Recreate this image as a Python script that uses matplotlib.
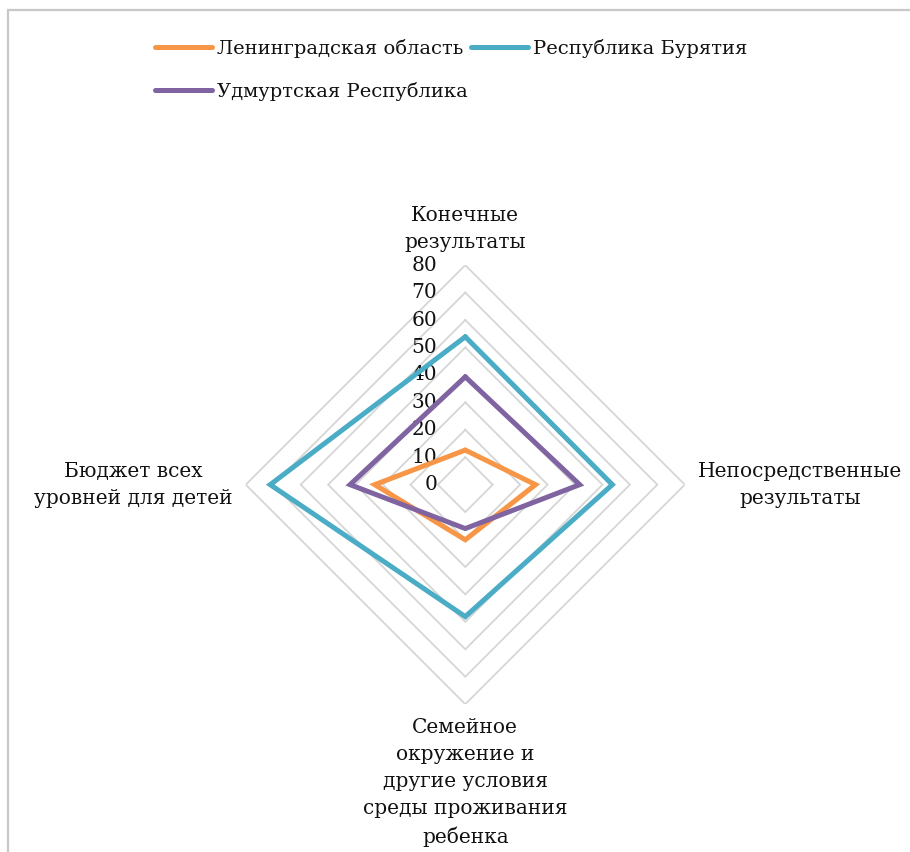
import numpy as np
import matplotlib.pyplot as plt
from matplotlib.patches import Rectangle

plt.rcParams['font.family'] = ['DejaVu Serif']
plt.rcParams['font.size'] = 14.5

categories = ['Конечные\nрезультаты',
              'Непосредственные\nрезультаты',
              'Семейное\nокружение и\nдругие условия\nсреды проживания\nребенка',
              'Бюджет всех\nуровней для детей']
series_names = ['Ленинградская область', 'Республика Бурятия', 'Удмуртская Республика']
leningrad = [12.6, 25.6, 20.1, 33]
buryatia = [53.9, 53.6, 48.1, 71.1]
udmurtia = [39.3, 41.7, 16, 42]
colors = ['#F79646', '#4BACC6', '#8064A2']
r_ticks = [0, 10, 20, 30, 40, 50, 60, 70, 80]

fig = plt.figure(figsize=(9.1, 8.52), dpi=100)
# chart frame, cut off at right/bottom like the screenshot
fig.patches.append(Rectangle((8 / 910, -0.1), 1.2, 1 - 10 / 852 + 0.1,
                             transform=fig.transFigure, fill=False,
                             edgecolor='#c8c8c8', lw=1.6))

ax = fig.add_axes([0.2701, 0.1735, 0.4824, 0.5153], projection='polar')
ax.set_theta_zero_location('N')
ax.set_theta_direction(-1)
ax.set_ylim(0, 80)
ax.grid(False)
ax.set_xticks([])
ax.set_yticks([])
ax.spines['polar'].set_visible(False)
ax.patch.set_visible(False)

angles = np.linspace(0, 2 * np.pi, len(categories), endpoint=False)
closed = np.append(angles, angles[0])

for r in r_ticks[1:]:
    ax.plot(closed, [r] * len(closed), color='#d6d6d6', lw=1.3, zorder=1,
            solid_joinstyle='miter')

handles = []
for name, vals, c in zip(series_names, [leningrad, buryatia, udmurtia], colors):
    h, = ax.plot(closed, vals + vals[:1], color=c, lw=3.6, label=name, zorder=3,
                 solid_joinstyle='miter', solid_capstyle='round')
    handles.append(h)

for r in r_ticks:
    ax.annotate(str(r), xy=(0, r), xytext=(-28, 0), textcoords='offset pixels',
                ha='right', va='center', color='#111111', zorder=2)

offsets = [(0, 13), (13, 0), (0, -14), (-13, 0)]
aligns = [('center', 'bottom'), ('left', 'center'), ('center', 'top'), ('right', 'center')]
for a, lab, off, (ha, va) in zip(angles, categories, offsets, aligns):
    ax.annotate(lab, xy=(a, 80), xytext=off, textcoords='offset pixels',
                ha=ha, va=va, multialignment='center', linespacing=1.52,
                color='#111111', annotation_clip=False)

order = [0, 2, 1]
leg = fig.legend([handles[i] for i in order], [series_names[i] for i in order],
                 loc='upper left', bbox_to_anchor=(145 / 910, 0.966), ncol=2,
                 frameon=False, borderpad=0, handlelength=2.93, handletextpad=0.26,
                 columnspacing=0.19, labelspacing=1.25, fontsize=14)
for t in leg.get_texts():
    t.set_color('#111111')

fig.savefig('out.png', dpi=100, facecolor='white')
